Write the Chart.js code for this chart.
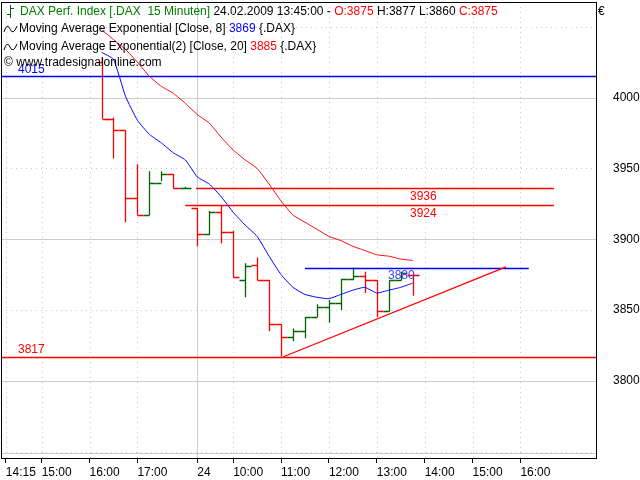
<!DOCTYPE html>
<html><head><meta charset="utf-8">
<script src="https://cdn.jsdelivr.net/npm/chart.js@4"></script>
<style>html,body{margin:0;padding:0;background:#fff}#c{display:block}</style>
</head><body>
<div style="width:640px;height:480px"><canvas id="c"></canvas></div>
<script>
// 15-minute slots: 0 = 23.02 14:15 ... 16 = 24.02 09:15
const slots = [8,9,10,11,12,13,14,15,16,17,18,19,20,21,22,23,24,25,26,27,28,29,30,31,32,33,34];
const open  = [4025,3985,3977,3929,3917,3940,3946,3936,3922,3904,3919,3905,3871,3882,3871,3840,3831,3835,3845,3852,3855,3872,3874,3871,3849,3871,3875];
const high  = [4028,3986,3977,3953,3948,3948,3946,3937,3922,3920,3924,3906,3883,3887,3871,3840,3837,3845,3854,3857,3872,3880,3877,3871,3871,3877,3877];
const low   = [3985,3957,3912,3917,3917,3941,3936,3936,3895,3903,3897,3873,3859,3871,3835,3817,3828,3830,3845,3841,3850,3871,3862,3845,3849,3871,3860];
const close = [3985,3977,3929,3917,3940,3946,3936,3936.5,3904,3919,3905,3873,3881,3871,3840,3831,3835,3845,3852,3855,3872,3874,3871,3849,3871,3876,3875];
const ema8  = [4032,4027,4001,3984,3974,3968,3961,3956,3944,3939,3930,3919,3910,3902,3888,3875,3866,3861,3859,3858,3861,3864,3866,3862,3864,3866,3869];
const ema20 = [4048,4041,4034,4025,4015,4008,4003,3996,3988,3982,3972,3963,3956,3950,3939,3927,3917,3912,3907,3902,3899,3895,3892,3889,3888,3886,3885];
const tickSlots  = [0,3,7,11,16,19,23,27,31,35,39,43];
const tickLabels = ['14:15','15:00','16:00','17:00','24','10:00','11:00','12:00','13:00','14:00','15:00','16:00'];
const yTicks = [3800,3850,3900,3950,4000];
// horizontal level lines: [value, fromSlot, toSlot, color, label]
const levels = [[4015,-1,50,'#0000ff','4015'],[3817,-1,50,'#ff0000','3817'],[3936,15.9,45.8,'#ff0000','3936'],[3924,15,45.8,'#ff0000','3924'],[3880,25,43.7,'#0000ff','3880']];
const trend = [[23.2,3817],[41.8,3880.5]];

const RED='#ff0000', GREEN='#006400', BLUE='#0000ff';

const ohlcPlugin = {
  id:'ohlc',
  beforeDatasetsDraw(chart){
    const {ctx, chartArea:a, scales:{x,y}} = chart;
    ctx.save();
    ctx.beginPath(); ctx.rect(a.left,a.top,a.right-a.left,a.bottom-a.top); ctx.clip();
    ctx.lineWidth=1;
    tickSlots.forEach((s,i)=>{
      const px=Math.round(x.getPixelForValue(s))+0.5;
      ctx.strokeStyle= i===4?'#cccccc':'#c8c8c8';
      ctx.setLineDash(i===4?[]:[1,4]);
      ctx.beginPath();ctx.moveTo(px,a.top);ctx.lineTo(px,a.bottom);ctx.stroke();
    });
    [3750,3800,3850,3900,3950,4000,4050].forEach(v=>{
      const py=Math.round(y.getPixelForValue(v))+0.5;
      const solid = v%100===0;
      ctx.strokeStyle= solid?'#cccccc':'#c8c8c8';
      ctx.setLineDash(solid?[]:[1,4]);
      ctx.beginPath();ctx.moveTo(a.left,py);ctx.lineTo(a.right,py);ctx.stroke();
    });
    ctx.setLineDash([]);
    ctx.strokeStyle='#cccccc';
    ctx.beginPath();ctx.moveTo(a.left,a.bottom-4.5);ctx.lineTo(a.right,a.bottom-4.5);ctx.stroke();
    ctx.lineWidth=1.3;
    slots.forEach((s,i)=>{
      const px=Math.round(x.getPixelForValue(s))+0.5;
      const col = close[i]>=open[i] && !(i===slots.length-1) ? GREEN : RED;
      ctx.strokeStyle=col;
      const yo=Math.round(y.getPixelForValue(open[i]))+0.5, yc=Math.round(y.getPixelForValue(close[i]))+0.5;
      ctx.beginPath();
      ctx.moveTo(px,y.getPixelForValue(high[i]));ctx.lineTo(px,y.getPixelForValue(low[i]));
      ctx.moveTo(px-6,yo);ctx.lineTo(px,yo);
      ctx.moveTo(px,yc);ctx.lineTo(px+6,yc);
      ctx.stroke();
    });
    levels.forEach(l=>{
      const py=Math.round(y.getPixelForValue(l[0]))+0.5;
      ctx.strokeStyle=l[3];
      ctx.beginPath();ctx.moveTo(x.getPixelForValue(l[1]),py);ctx.lineTo(x.getPixelForValue(l[2]),py);ctx.stroke();
    });
    ctx.strokeStyle=RED;
    ctx.beginPath();ctx.moveTo(x.getPixelForValue(trend[0][0]),y.getPixelForValue(trend[0][1]));
    ctx.lineTo(x.getPixelForValue(trend[1][0]),y.getPixelForValue(trend[1][1]));ctx.stroke();
    ctx.restore();
  },
  afterDatasetsDraw(chart){
    const {ctx, chartArea:a, scales:{x,y}} = chart;
    ctx.save();
    ctx.font='12px "Liberation Sans", Arial, sans-serif';
    ctx.textBaseline='bottom';
    const lab=(t,px,py,c)=>{ctx.fillStyle=c;ctx.fillText(t,px,py);};
    lab('4015',18,y.getPixelForValue(4015)-1,BLUE);
    lab('3817',18,y.getPixelForValue(3817)-1,RED);
    lab('3936',410,y.getPixelForValue(3936)+14,RED);
    lab('3924',410,y.getPixelForValue(3924)+14,RED);
    lab('3880',388,y.getPixelForValue(3880)+14,'#4040ff');
    ctx.textBaseline='middle';
    const seq=(parts,x0,yy)=>{let xx=x0;parts.forEach(([t,c])=>{ctx.fillStyle=c;ctx.fillText(t,xx,yy);xx+=ctx.measureText(t).width;});};
    ctx.strokeStyle=GREEN;ctx.lineWidth=1;
    ctx.beginPath();ctx.moveTo(10.5,5);ctx.lineTo(10.5,18);ctx.moveTo(7,14.5);ctx.lineTo(10.5,14.5);ctx.moveTo(10.5,8.5);ctx.lineTo(14,8.5);ctx.stroke();
    seq([['DAX Perf. Index [.DAX  15 Minuten]','#008000'],[' 24.02.2009 13:45:00 - ','#000'],['O:3875',RED],[' H:3877 L:3860 ','#000'],['C:3875',RED]],20,12);
    const wave=(yy)=>{ctx.strokeStyle='#000';ctx.beginPath();ctx.moveTo(4,yy+3);ctx.quadraticCurveTo(7,yy-7,10,yy);ctx.quadraticCurveTo(13,yy+7,17,yy-3);ctx.stroke();};
    wave(29);seq([['Moving Average Exponential [Close, 8] ','#000'],['3869',BLUE],[' {.DAX}','#000']],19,29);
    wave(47);seq([['Moving Average Exponential(2) [Close, 20] ','#000'],['3885',RED],[' {.DAX}','#000']],19,47);
    seq([['© www.tradesignalonline.com','#000']],4,63);
    ctx.fillStyle='#000';ctx.fillText('€',598,12);
    ctx.strokeStyle='#000';ctx.strokeRect(a.left+0.5,a.top+0.5,a.right-a.left-1,a.bottom-a.top);
    ctx.restore();
  }
};

new Chart(document.getElementById('c'),{
  type:'line',
  data:{datasets:[
    {data:slots.map((s,i)=>({x:s,y:ema8[i]})),borderColor:BLUE,borderWidth:1,pointRadius:0,tension:0.15},
    {data:slots.map((s,i)=>({x:s,y:ema20[i]})),borderColor:RED,borderWidth:1,pointRadius:0,tension:0.15}
  ]},
  options:{
    responsive:true,maintainAspectRatio:false,animation:false,
    layout:{padding:{left:1,top:2,right:0,bottom:0}},
    plugins:{legend:{display:false},tooltip:{enabled:false}},
    scales:{
      x:{type:'linear',min:-0.4,max:49.4,
        afterBuildTicks(s){s.ticks=tickSlots.map(v=>({value:v}));},
        afterFit(s){s.height=22;s.paddingLeft=0;s.paddingRight=0;},
        ticks:{autoSkip:false,maxRotation:0,align:'start',padding:2,color:'#000',font:{size:12,family:'"Liberation Sans", Arial'},
          callback:(v)=>{const i=tickSlots.indexOf(v);return i>=0?tickLabels[i]:'';}},
        grid:{display:true,drawOnChartArea:false,tickLength:5,color:'#000'},border:{display:false}},
      y:{position:'right',min:3745.5,max:4067.5,
        afterBuildTicks(s){s.ticks=yTicks.map(v=>({value:v}));},
        afterFit(s){s.width=43;s.paddingTop=0;s.paddingBottom=0;},
        ticks:{color:'#000',padding:8,font:{size:12,family:'"Liberation Sans", Arial'},callback:(v)=>String(v)},
        grid:{display:false},border:{display:false}}
    }
  },
  plugins:[ohlcPlugin]
});
</script></body></html>
